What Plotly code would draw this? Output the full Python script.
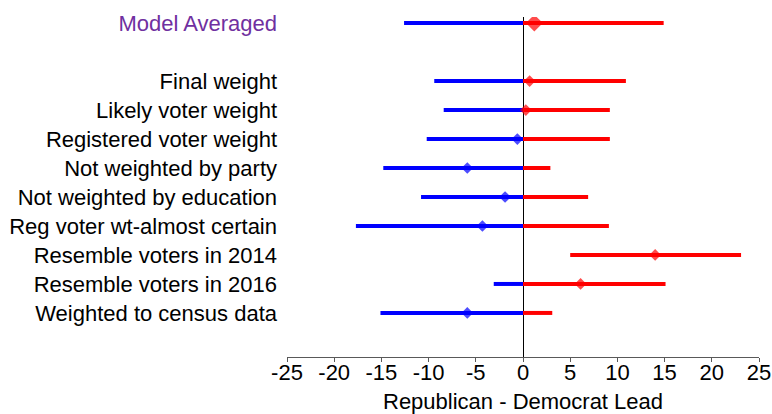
import plotly.graph_objects as go

# Weighting schemes and their estimated Republican - Democrat lead with interval
labels = [
    "Model Averaged",
    "Final weight",
    "Likely voter weight",
    "Registered voter weight",
    "Not weighted by party",
    "Not weighted by education",
    "Reg voter wt-almost certain",
    "Resemble voters in 2014",
    "Resemble voters in 2016",
    "Weighted to census data",
]
row_pos = [0, 2, 3, 4, 5, 6, 7, 8, 9, 10]
low = [-12.6, -9.4, -8.4, -10.2, -14.8, -10.8, -17.7, 5.0, -3.1, -15.1]
high = [14.9, 10.9, 9.2, 9.2, 2.9, 6.9, 9.1, 23.1, 15.1, 3.1]
estimate = [1.2, 0.7, 0.3, -0.6, -5.9, -1.9, -4.3, 14.0, 6.1, -5.9]

x_ticks = [-25, -20, -15, -10, -5, 0, 5, 10, 15, 20, 25]

BLUE = "#0000FF"
RED = "#FF0000"
PURPLE = "#7030A0"
FONT = "Liberation Sans, Arial, sans-serif"

# Split each interval at zero: the Democratic side in blue, the Republican side in red
bx, by, rx, ry = [], [], [], []
for y, lo, hi in zip(row_pos, low, high):
    if lo < 0:
        bx += [lo, min(hi, 0), None]
        by += [y, y, None]
    if hi > 0:
        rx += [max(lo, 0), hi, None]
        ry += [y, y, None]

fig = go.Figure()
fig.add_trace(go.Scatter(x=bx, y=by, mode="lines",
                         line=dict(color=BLUE, width=4), hoverinfo="skip"))
fig.add_trace(go.Scatter(x=rx, y=ry, mode="lines",
                         line=dict(color=RED, width=4), hoverinfo="skip"))

marker_colors = [RED if v > 0 else BLUE for v in estimate]
marker_sizes = [13 if i == 0 else 9 for i in range(len(estimate))]
fig.add_trace(go.Scatter(
    x=estimate, y=row_pos, mode="markers",
    marker=dict(symbol="diamond", color=marker_colors, size=marker_sizes,
                line=dict(width=0)),
))

ticktext = [
    f'<span style="color:{PURPLE}">{t}</span>' if i == 0 else t
    for i, t in enumerate(labels)
]

fig.update_layout(
    width=772, height=414,
    margin=dict(l=287, r=13, t=17, b=57),
    paper_bgcolor="white", plot_bgcolor="white",
    showlegend=False,
    font=dict(family=FONT, color="black"),
    xaxis=dict(
        range=[-25, 25], tickvals=x_ticks,
        ticktext=[str(v) for v in x_ticks],
        tickfont=dict(size=22, color="black"),
        ticks="outside", ticklen=4, tickcolor="#595959", tickwidth=1,
        ticklabelstandoff=-8,
        showline=True, linecolor="#595959", linewidth=1,
        showgrid=False,
        zeroline=True, zerolinecolor="black", zerolinewidth=1,
        automargin=False,
    ),
    yaxis=dict(
        range=[11.52, -0.21], tickvals=row_pos, ticktext=ticktext,
        tickfont=dict(size=22, color="black"),
        showgrid=False, zeroline=False, showline=False,
        ticks="", ticklabelstandoff=9, automargin=False,
    ),
    annotations=[dict(
        text="Republican - Democrat Lead", xref="paper", yref="paper",
        x=0.5, y=-0.132, xanchor="center", yanchor="middle",
        showarrow=False, font=dict(size=22, color="black"),
    )],
)

fig.write_html("out.html")
